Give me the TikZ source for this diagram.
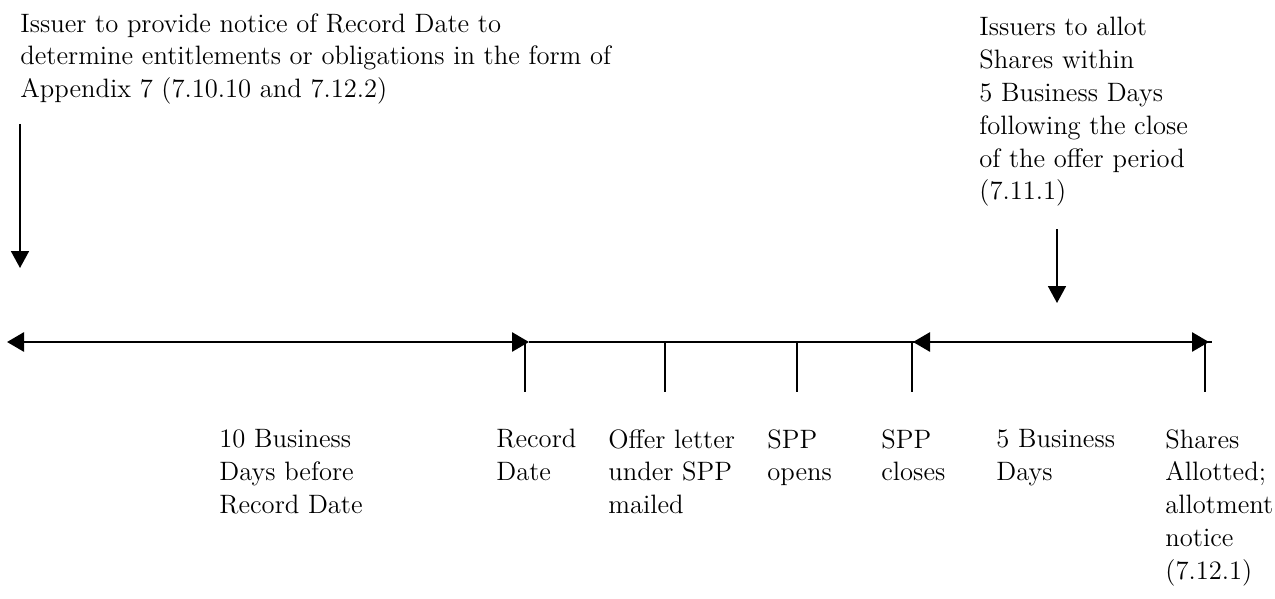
\documentclass[tikz,border=0pt]{standalone}
\usetikzlibrary{arrows.meta}
\begin{document}
\begin{tikzpicture}[x=0.5pt,y=-0.5pt,
  lbl/.style={anchor=north west,inner sep=0pt,align=left,font=\fontsize{13.3pt}{16.4pt}\selectfont},
  tl/.style={line width=1.4pt},
  tick/.style={line width=0.9pt},
  tip/.style={-{Triangle[length=8.5pt,width=9pt]}},
  tips/.style={{Triangle[length=8.5pt,width=9.5pt]}-{Triangle[length=8.5pt,width=9.5pt]}}]
\useasboundingbox (0,0) rectangle (1275,599);
% texts
\node[lbl] (notice) at (20,13) {Issuer to provide notice of Record Date to\\determine entitlements or obligations in the form of\\Appendix 7 (7.10.10 and 7.12.2)};
\node[lbl] (allot) at (979,17) {Issuers to allot\\Shares within\\5 Business Days\\following the close\\of the offer period\\(7.11.1)};
\node[lbl] (b1) at (219,429) {10 Business\\Days before\\Record Date};
\node[lbl] (b2) at (496,429) {Record\\Date};
\node[lbl] (b3) at (608,429) {Offer letter\\under SPP\\mailed};
\node[lbl] (b4) at (767,429) {SPP\\opens};
\node[lbl] (b5) at (881,429) {SPP\\closes};
\node[lbl] (b6) at (996,429) {5 Business\\Days};
\node[lbl] (b7) at (1165,429) {Shares\\Allotted;\\allotment\\notice\\(7.12.1)};
% timeline coordinates
\coordinate (L) at (7,342);
\coordinate (R1) at (529,342);
\coordinate (S) at (913,342);
\coordinate (R2) at (1209,342);
\coordinate (E) at (1212,342);
\foreach \n/\x in {t1/525,t2/665,t3/797,t4/912,t5/1205}{
  \coordinate (\n a) at (\x,342);
  \coordinate (\n b) at (\x,392);
}
\draw[tl] (R1) -- (E);
\draw[tl,tips] (L) -- (R1);
\draw[tl,tips] (S) -- (R2);
\foreach \n in {t1,t2,t3,t4,t5}{\draw[tick] (\n a) -- (\n b);}
% vertical arrows
\coordinate (va1) at (20,124);
\coordinate (vb1) at (20,268);
\coordinate (va2) at (1057,229);
\coordinate (vb2) at (1057,303);
\draw[tick,tip] (va1) -- (vb1);
\draw[tick,tip] (va2) -- (vb2);
\end{tikzpicture}
\end{document}
